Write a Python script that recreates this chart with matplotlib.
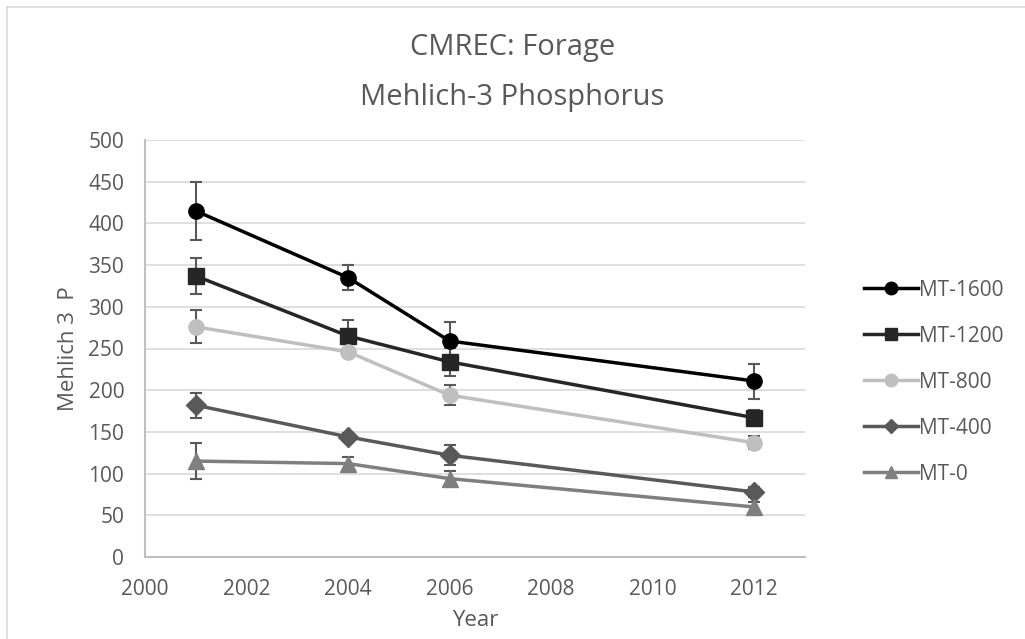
import matplotlib
matplotlib.use("Agg")
import matplotlib.pyplot as plt
from matplotlib.lines import Line2D
from matplotlib import font_manager

years = [2001, 2004, 2006, 2012]
series_names = ["MT-1600", "MT-1200", "MT-800", "MT-400", "MT-0"]
mt1600 = [415, 335, 259, 211]
mt1200 = [337, 265, 234, 167]
mt800 = [276, 246, 194, 137]
mt400 = [182, 144, 122, 78]
mt0 = [115, 112, 94, 60]
err1600 = [35, 15, 23, 21]
err1200 = [22, 19, 17, 9]
err800 = [20, 3, 12, 8]
err400 = [15, 5, 12, 6]
err0 = [22, 8, 9, 6]

values = [mt1600, mt1200, mt800, mt400, mt0]
errors = [err1600, err1200, err800, err400, err0]
colors = ["#000000", "#262626", "#bfbfbf", "#595959", "#7f7f7f"]
markers = ["o", "s", "o", "D", "^"]
msizes = [11, 11, 11, 10, 11]
leg_msizes = [9, 9, 9, 7.5, 9]

avail = {f.name for f in font_manager.fontManager.ttflist}
body_font = [f for f in ["Open Sans", "Noto Sans", "DejaVu Sans"] if f in avail]
title_font = [f for f in ["Liberation Sans Narrow", "Open Sans", "DejaVu Sans"] if f in avail]
plt.rcParams['font.family'] = body_font

fig = plt.figure(figsize=(10.25, 6.39), dpi=100)
ax = fig.add_axes([145/1025, 1-557/639, (805-145)/1025, (557-140)/639])

for vals, errs, c, m, ms, name in zip(values, errors, colors, markers, msizes, series_names):
    ax.errorbar(years, vals, yerr=errs, color=c, marker=m, markersize=ms,
                linewidth=2.5, ecolor="#595959", elinewidth=1.5, capsize=4,
                capthick=1.5, label=name, zorder=3)

ax.set_xlim(2000, 2013)
ax.set_ylim(0, 500)
ax.set_xticks([2000, 2002, 2004, 2006, 2008, 2010, 2012])
ax.set_yticks(range(0, 501, 50))
ax.grid(axis="y", color="#d9d9d9", linewidth=1.2, zorder=0)
ax.set_axisbelow(True)
for s in ["top", "right"]:
    ax.spines[s].set_visible(False)
for s in ["left", "bottom"]:
    ax.spines[s].set_color("#bfbfbf")
    ax.spines[s].set_linewidth(1.5)
ax.tick_params(length=0, labelsize=15, labelcolor="#595959")
ax.tick_params(axis="y", pad=15)
ax.tick_params(axis="x", pad=16)
ax.set_xlabel("Year", fontsize=16, color="#595959", labelpad=7)
ax.set_ylabel("Mehlich 3  P", fontsize=16, color="#595959", labelpad=7)

fig.text(0.5, 1 - 47/639, "CMREC: Forage", ha="center", va="center",
         fontsize=21, color="#595959", family=title_font)
fig.text(0.5, 1 - 98/639, "Mehlich-3 Phosphorus", ha="center", va="center",
         fontsize=21, color="#595959", family=title_font)

handles = [Line2D([0], [0], color=c, marker=m, markersize=ms, linewidth=2.5)
           for c, m, ms in zip(colors, markers, leg_msizes)]
leg = fig.legend(handles, series_names, loc="center left", bbox_to_anchor=(845/1025, 1 - 382/639),
                 frameon=False, fontsize=15, labelspacing=1.2, handlelength=2.6,
                 handletextpad=0.05, labelcolor="#595959")

fig.add_artist(Line2D([7/1025, 1], [1 - 7/639, 1 - 7/639], color="#d9d9d9", linewidth=1.2))
fig.add_artist(Line2D([7/1025, 7/1025], [0, 1 - 7/639], color="#d9d9d9", linewidth=1.2))

fig.savefig("out.png", dpi=100)
